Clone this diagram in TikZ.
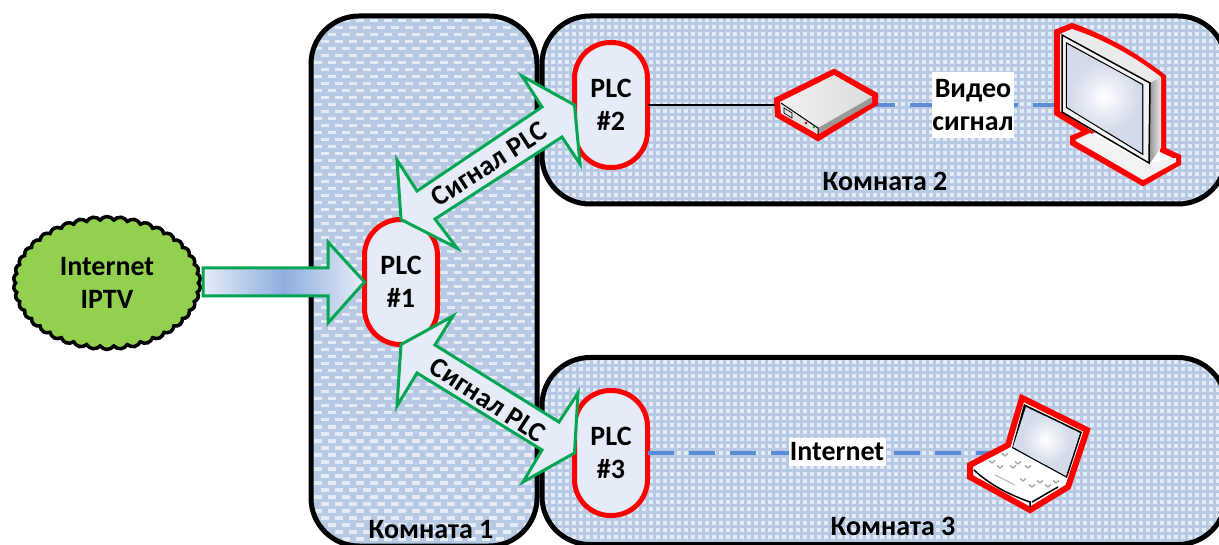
\documentclass[tikz,border=0pt]{standalone}
\usepackage{fontspec}
\setmainfont{Carlito}
\usetikzlibrary{shapes.symbols}
\definecolor{roomblue}{HTML}{B8C9E3}
\definecolor{paleblue}{HTML}{E6ECF7}
\definecolor{midblue}{HTML}{8FAEE0}
\definecolor{dashblue}{HTML}{5B8BD5}
\definecolor{sigreen}{HTML}{00A651}
\definecolor{cloudgreen}{HTML}{92D050}
\definecolor{screenblue}{HTML}{D3DBEA}
\tikzset{
    RM1/.style ={rectangle,outer sep=0pt,fill=roomblue,rounded corners=48pt},
    RM2/.style ={draw,line width=5pt,rounded corners=48pt},
    PL1/.style ={rectangle,draw=red,line width=5pt,rounded corners=36pt,fill=paleblue,outer sep=0pt,
        minimum width=73pt,minimum height=125pt,inner sep=0pt,align=center,font=\fontsize{28}{33}\selectfont\bfseries},
    TX1/.style ={font=\fontsize{28}{33}\selectfont\bfseries,align=center,inner sep=0pt},
    AR1/.style ={draw=sigreen,line width=3pt,miter limit=20},
    DV1/.style ={draw=red,line width=6pt,line join=miter,fill=white},
    DV2/.style ={draw=black,line width=1pt},
    DS1/.style ={draw=dashblue,line width=3.5pt,dash pattern=on 26pt off 15pt}}

\begin{document}
\begin{tikzpicture}[x=1pt,y=-1pt]
        \useasboundingbox (0,0) rectangle (1219,545);
        % rooms
        \node[RM1,minimum width=226pt,minimum height=530pt] (room1) at (424,281){};
        \node[RM1,minimum width=684pt,minimum height=188pt] (room2) at (884,110){};
        \node[RM1,minimum width=684pt,minimum height=187pt] (room3) at (884,451){};
        \begin{scope}
            \clip[rounded corners=48pt] (room1.north west) rectangle (room1.south east);
            \foreach \row in {0,...,75}
                \foreach \col in {0,...,16}
                    \fill[paleblue] ({314+\col*14+mod(\row,2)*7},{19+\row*7}) rectangle +(8,3.5);
        \end{scope}
        \begin{scope}
            \clip[rounded corners=48pt] (room2.north west) rectangle (room2.south east);
            \foreach \row in {0,...,26}
                \foreach \col in {0,...,97}
                    \fill[paleblue] ({544+\col*7},{18+\row*7}) rectangle +(3.7,3.7);
        \end{scope}
        \begin{scope}
            \clip[rounded corners=48pt] (room3.north west) rectangle (room3.south east);
            \foreach \row in {0,...,26}
                \foreach \col in {0,...,97}
                    \fill[paleblue] ({544+\col*7},{360+\row*7}) rectangle +(3.7,3.7);
        \end{scope}
        \draw[RM2] (room1.north west) rectangle (room1.south east);
        \draw[RM2] (room2.north west) rectangle (room2.south east);
        \draw[RM2] (room3.north west) rectangle (room3.south east);
        \node[TX1] (name1) at (431,530){Комната 1};
        \node[TX1] (name2) at (885,181){Комната 2};
        \node[TX1] (name3) at (893,526){Комната 3};
        % cloud and plc units
        \node[cloud,cloud puffs=42,cloud puff arc=110,cloud ignores aspect,draw,line width=3.5pt,fill=cloudgreen,
            minimum width=187pt,minimum height=133pt,inner sep=0pt,outer sep=0pt] (cloud) at (107,283){};
        \node[TX1] (inet) at (107,283){Internet\\IPTV};
        \node[PL1] (plc1) at (401,282){PLC\\\#1};
        \node[PL1] (plc2) at (611,105){PLC\\\#2};
        \node[PL1] (plc3) at (611,453){PLC\\\#3};
        % anchors of the devices
        \coordinate (rtr) at (828,105);
        \coordinate (tv) at (1110,105);
        \coordinate (lap) at (1020,453);
        % links
        \draw[line width=1.5pt] (plc2.east) --(rtr);
        \draw[DS1] (rtr) --(tv);
        \draw[DS1] (plc3.east) --(lap);
        \node[TX1,fill=white,minimum width=82pt,minimum height=66pt] (video) at (973,105){Видео\\сигнал};
        \node[TX1,fill=white,minimum width=97pt,minimum height=28pt] (net) at (837,452){Internet};
        % block arrows
        \draw[AR1,left color=paleblue,right color=paleblue,middle color=midblue]
            (203,268) -- (328,268) -- (328,242) -- (plc1.west) -- (328,323) -- (328,296) -- (203,296) -- cycle;
        \draw[AR1,fill=paleblue] (plc1.north) -- (397,160) -- (417,191) -- (542,107) -- (522,76) -- (plc2.west)
            -- (580,164) -- (562,137) -- (435,219) -- (457,248) -- cycle;
        \draw[AR1,fill=paleblue] (plc1.south) -- (453,316) -- (435,345) -- (559,422) -- (578,393) -- (plc3.west)
            -- (523,482) -- (542,450) -- (417,373) -- (397,406) -- cycle;
        \node[TX1,rotate=33] (sig1) at (489,164){Сигнал PLC};
        \node[TX1,rotate=-33] (sig2) at (488,400){Сигнал PLC};
        % router
        \draw[DV1] (777,100) -- (834,72) -- (875,95) -- (875,103) -- (818,138) -- (778,115) -- cycle;
        \shade[left color=black!5,right color=black!14] (781,102) -- (834,75) -- (872,97) -- (818,128) -- cycle;
        \fill[black!40] (818,128) -- (872,97) -- (872,103) -- (818,134) -- cycle;
        \fill[black!12] (781,103) -- (818,128) -- (818,134) -- (782,114) -- cycle;
        \draw[DV2] (781,103) -- (818,128) -- (818,135);
        \draw[black,line width=.6pt] (784,108) -- (792,113) -- (792,118) -- (784,113) -- cycle;
        \fill[red!70!black] (806,123) circle (1.3);
        \fill[green!60!black] (814,127) circle (1.3);
        % monitor
        \draw[DV1] (1057,32) -- (1072,26) .. controls (1105,38) and (1135,55) .. (1163,77) -- (1163,150)
            -- (1178,157) -- (1178,163) -- (1143,183) -- (1073,143) -- (1073,138) -- (1088,132) -- (1057,113) -- cycle;
        \fill[black!5] (1075,140) -- (1090,133) -- (1145,163) -- (1176,158) -- (1176,162) -- (1143,180) -- cycle;
        \fill[black!8] (1062,33) -- (1072,29) .. controls (1105,40) and (1135,57) .. (1161,77) -- (1150,83) -- cycle;
        \shade[left color=black!40,right color=black!8] (1150,83) -- (1161,77) -- (1161,148) -- (1150,163) -- cycle;
        \draw[DV2,fill=black!5,line width=1.5pt] (1062,35) -- (1150,83) -- (1149,163) -- (1062,112) -- cycle;
        \begin{scope}
            \clip[preaction={draw,line width=2.5pt}] (1067,44) -- (1142,85) -- (1142,153) -- (1067,107) -- cycle;
            \fill[screenblue] (1060,40) rectangle (1150,160);
            \shade[inner color=white,outer color=screenblue] (1104,97) circle (34);
        \end{scope}
        % laptop
        \draw[DV1] (1022,398) -- (1087,430) -- (1068,487) -- (1030,510) -- (970,477) -- (970,465) -- (1008,445) -- cycle;
        \fill[black] (1024,404) -- (1082,432) -- (1067,478) -- (1012,448) -- cycle;
        \begin{scope}
            \clip (1026,407) -- (1080,433) -- (1066,476) -- (1013,447) -- cycle;
            \fill[screenblue] (1010,400) rectangle (1085,480);
            \shade[inner color=white,outer color=screenblue] (1046,440) circle (24);
        \end{scope}
        \fill[white] (973,468) -- (1010,448) -- (1067,480) -- (1030,502) -- cycle;
        \draw[line width=1.5pt] (974,470) .. controls (990,485) and (1010,495) .. (1030,502) -- (1030,507);
        \draw[line width=1.5pt] (1032,502) -- (1058,487);
        \draw[black!35,line width=.8pt] (995,475) -- (1015,485);
        \foreach \px/\py in {1005/455,992/462,1013/467,1000/467,1028/467,1040/482,1023/480,1032/486,1048/486,1056/482,1018/463}
            \draw[black!35,line width=1.3pt] (\px-3,\py-1.5) -- (\px,\py+1) -- (\px+3,\py-1.5);
\end{tikzpicture}
\end{document}
